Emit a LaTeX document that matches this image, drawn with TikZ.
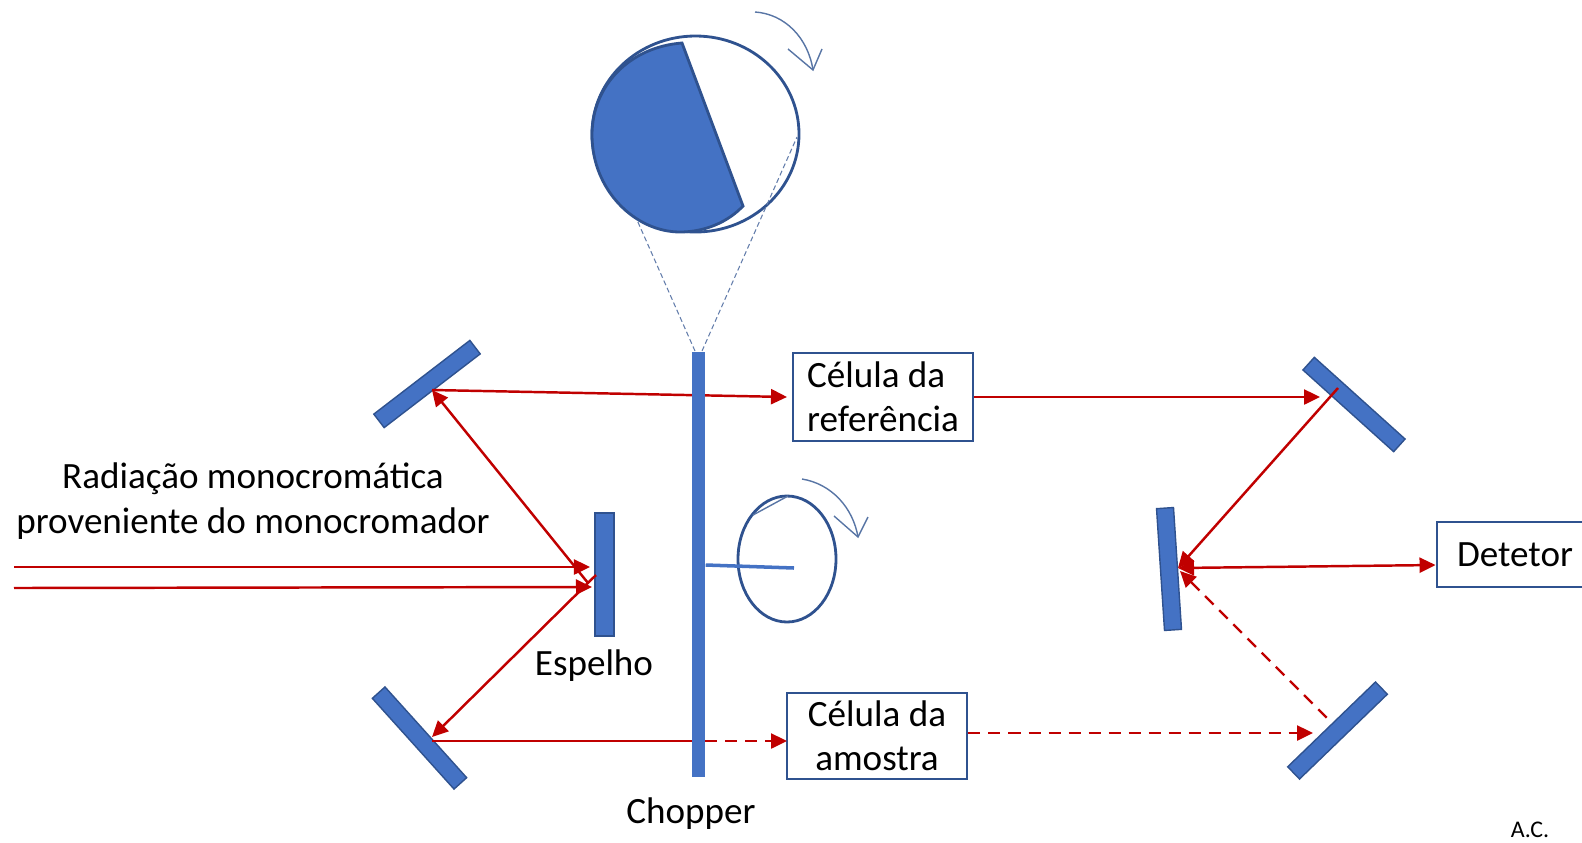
\documentclass[tikz,border=0pt]{standalone}
\usepackage{fontspec}
\setmainfont{Carlito}
\usetikzlibrary{arrows.meta}
\definecolor{mirrorblue}{HTML}{4472C4}
\definecolor{edgeblue}{HTML}{2F528F}
\definecolor{rayred}{HTML}{C00000}
\tikzset{
  mirror/.style={fill=mirrorblue,draw=edgeblue,line width=0.4pt,minimum width=#1,minimum height=0.17cm,inner sep=0pt},
  cell/.style={draw=edgeblue,line width=0.8pt,align=center,inner sep=0pt,font=\fontsize{10.55pt}{12.6pt}\selectfont},
  caption/.style={align=center,inner sep=0pt,font=\fontsize{10.55pt}{12.6pt}\selectfont},
  ray/.style={rayred,line width=0.7pt,-{Triangle[length=0.16cm,width=0.15cm]}},
  bothray/.style={rayred,line width=0.7pt,{Triangle[length=0.16cm,width=0.15cm]}-{Triangle[length=0.16cm,width=0.15cm]}},
  backray/.style={rayred,line width=0.7pt,{Triangle[length=0.16cm,width=0.15cm]}-},
  plainray/.style={rayred,line width=0.7pt},
  dashray/.style={dash pattern=on 0.12cm off 0.08cm},
  guide/.style={edgeblue!75,line width=0.3pt,dash pattern=on 0.05cm off 0.03cm},
  turn/.style={edgeblue!80,line width=0.4pt}
}
\begin{document}
\begin{tikzpicture}[x=0.01cm,y=0.01cm]
\clip (0,0) rectangle (1582,-842);
\useasboundingbox (0,0) rectangle (1582,-842);
\draw [edgeblue,line width=0.8pt,fill=white] (695.5,-134) ellipse (103.5 and 98);
\fill [mirrorblue,draw=edgeblue,line width=0.8pt] (682,-43) .. controls (630,-47) and (592,-85) .. (592,-135) .. controls (592,-190) and (635,-232) .. (680,-232) .. controls (705,-232) and (728,-222) .. (743,-206) -- cycle;
\coordinate (discleft) at (637,-220);
\coordinate (discright) at (797,-137);
\coordinate (barleft) at (695,-351);
\coordinate (barright) at (702,-351);
\draw [guide] (barleft) -- (discleft);
\draw [guide] (barright) -- (discright);
\coordinate (turnA) at (755,-12);
\coordinate (turnB) at (813,-70);
\draw [turn] (turnA) .. controls (785,-14) and (808,-38) .. (turnB);
\draw [turn] (788,-49) -- (turnB) -- (822,-49);
\draw [edgeblue,line width=0.8pt] (787,-559) ellipse (49 and 63);
\draw [turn] (788,-496) -- (753,-515);
\coordinate (spinA) at (802,-479);
\coordinate (spinB) at (858,-537);
\draw [turn] (spinA) .. controls (832,-484) and (853,-508) .. (spinB);
\draw [turn] (834,-516) -- (spinB) -- (868,-517);
\node [mirror=1.21cm,rotate=37.5] (mirrorTL) at (427,-384) {};
\node [mirror=1.22cm,rotate=-48] (mirrorBL) at (419.5,-738) {};
\node [mirror=1.23cm,minimum height=0.19cm,rotate=90] (espelho) at (604.5,-574.5) {};
\node [mirror=1.22cm,rotate=-42] (mirrorTR) at (1354,-404.5) {};
\node [mirror=1.22cm,rotate=93.75] (mirrorMR) at (1169,-569) {};
\node [mirror=1.22cm,rotate=44] (mirrorBR) at (1337.5,-730.5) {};
\node [cell,align=left,minimum width=1.80cm,minimum height=0.88cm] (refcell) at (883,-397) {Célula da\\referência};
\node [cell,minimum width=1.80cm,minimum height=0.86cm] (samplecell) at (877,-736) {Célula da\\amostra};
\node [cell,minimum width=1.56cm,minimum height=0.65cm,text width=1.56cm] (detector) at (1515,-554.5) {\raisebox{-0.035cm}{Detetor}};
\node [caption] (source) at (253,-501) {Radiação monocromática\\proveniente do monocromador};
\node [caption] (espelhotext) at (594,-666) {Espelho};
\node [caption] (choppertext) at (691,-814) {Chopper};
\node [caption,font=\fontsize{6.8pt}{7pt}\selectfont] (actext) at (1530,-830) {A.C.};
\coordinate (inA) at (14,-567);
\coordinate (inB) at (14,-588);
\coordinate (hitA) at (590,-567);
\coordinate (hitB) at (592,-587);
\coordinate (espelhoA) at (588,-583);
\coordinate (espelhoB) at (596,-575);
\coordinate (hitTL) at (432,-390);
\coordinate (hitBL) at (432,-737);
\coordinate (offBL) at (432,-741);
\coordinate (reftip) at (787,-397);
\coordinate (sampletip) at (787,-741);
\coordinate (barsample) at (705,-741);
\coordinate (hitTR) at (1320,-397);
\coordinate (offTR) at (1338,-388);
\coordinate (hitMR) at (1178,-568);
\coordinate (hitMRb) at (1180,-571);
\coordinate (hitBR) at (1313,-733);
\coordinate (offBR) at (1332,-723);
\draw [ray] (inA) -- (hitA);
\draw [ray] (inB) -- (hitB);
\draw [backray] (hitTL) -- (espelhoA);
\draw [backray] (hitBL) -- (espelhoB);
\draw [ray] (hitTL) -- (reftip);
\draw [plainray] (offBL) -- (barsample);
\draw [ray,dashray] (barsample) -- (sampletip);
\draw [ray] (refcell.east) -- (hitTR);
\draw [ray,dashray] (samplecell.east |- hitBR) -- (hitBR);
\draw [backray] (hitMR) -- (offTR);
\draw [bothray] (hitMR) -- (detector.west |- 0,-565);
\draw [backray,dashray] (hitMRb) -- (offBR);
\node [fill=mirrorblue,minimum width=0.13cm,minimum height=4.25cm,inner sep=0pt] (chopper) at (698.5,-564.5) {};
\coordinate (axle) at (794,-568);
\draw [mirrorblue,line width=1pt] (chopper.east |- 0,-565) -- (axle);
\end{tikzpicture}
\end{document}
